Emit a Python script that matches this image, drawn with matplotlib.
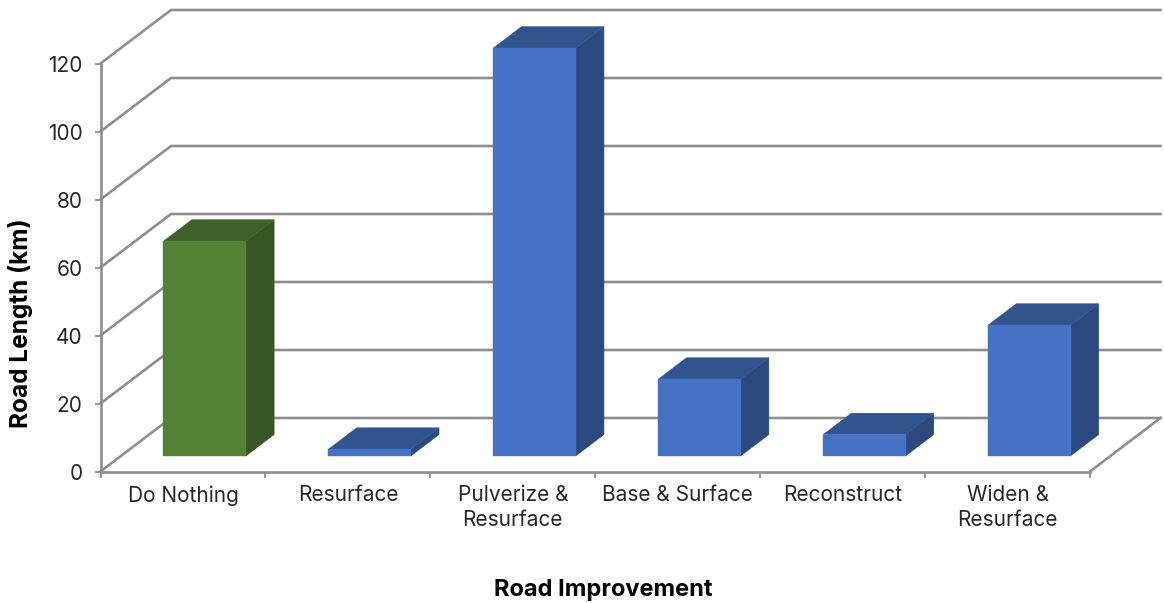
import matplotlib
matplotlib.use("Agg")
import matplotlib.pyplot as plt
from matplotlib.patches import Polygon

categories = ["Do Nothing", "Resurface", "Pulverize &\nResurface", "Base & Surface", "Reconstruct", "Widen &\nResurface"]
values = [63.2, 2.0, 120.0, 22.6, 6.3, 38.5]
y_ticks = [0, 20, 40, 60, 80, 100, 120]
face_colors = ["#548235", "#4472C4", "#4472C4", "#4472C4", "#4472C4", "#4472C4"]
side_colors = ["#375623", "#2A4A80", "#2A4A80", "#2A4A80", "#2A4A80", "#2A4A80"]
top_colors = ["#3F6128", "#31548F", "#31548F", "#31548F", "#31548F", "#31548F"]

W, H = 1164, 603
FONT = "Inter"
GRID = "#8E8E8E"
TXT = "#262626"
plt.rcParams["font.family"] = [FONT, "DejaVu Sans"]

fig = plt.figure(figsize=(W / 100, H / 100), dpi=100, facecolor="white")
L, R, T, B = 100.5, 1090.0, 63.5, 471.5
ax = fig.add_axes([L / W, 1 - B / H, (R - L) / W, (B - T) / H])
ax.set_xlim(0, len(categories))
ax.set_ylim(0, 120)
ax.patch.set_alpha(0)

# oblique projection: depth 0 = front, depth 1 = back wall
DX = 70.5 / ((R - L) / len(categories))
DY = 53.5 / ((B - T) / 120)


def proj(x, y, d):
    return (x + DX * d, y + DY * d)


for v in y_ticks:
    pts = [proj(0, v, 0), proj(0, v, 1), proj(len(categories), v, 1)]
    ax.plot(*zip(*pts), color=GRID, lw=1.9, clip_on=False, zorder=1, solid_joinstyle="miter")
pts = [proj(len(categories), 0, 1), proj(len(categories), 0, 0)]
ax.plot(*zip(*pts), color=GRID, lw=1.9, clip_on=False, zorder=1)

D0, D1 = 0.29, 0.69
BW = 0.5
X0 = 0.258
for i, v in enumerate(values):
    x0, x1 = i + X0, i + X0 + BW
    front = [proj(x0, 0, D0), proj(x1, 0, D0), proj(x1, v, D0), proj(x0, v, D0)]
    side = [proj(x1, 0, D0), proj(x1, 0, D1), proj(x1, v, D1), proj(x1, v, D0)]
    top = [proj(x0, v, D0), proj(x1, v, D0), proj(x1, v, D1), proj(x0, v, D1)]
    for poly, c in ((side, side_colors[i]), (top, top_colors[i]), (front, face_colors[i])):
        ax.add_patch(Polygon(poly, closed=True, facecolor=c, edgecolor=c, lw=0.3, clip_on=False, zorder=3))

for s in ("top", "right"):
    ax.spines[s].set_visible(False)
for s in ("left", "bottom"):
    ax.spines[s].set_color(GRID)
    ax.spines[s].set_linewidth(1.9)
    ax.spines[s].set_zorder(2)

ax.set_yticks(y_ticks)
ax.set_xticks(range(len(categories) + 1))
ax.set_xticklabels([])
ax.set_xticks([i + 0.5 for i in range(len(categories))], labels=categories, minor=True)
ax.tick_params(axis="x", which="major", length=4, width=1.3, color=GRID)
ax.tick_params(axis="x", which="minor", length=0, pad=10, labelsize=15, labelcolor=TXT)
ax.tick_params(axis="y", which="major", length=4, width=1.3, color=GRID, pad=9, labelsize=15, labelcolor=TXT)
for t in ax.get_xticklabels(minor=True):
    t.set_linespacing(1.27)

fig.text(603.5 / W, 1 - 590 / H, "Road Improvement", ha="center", va="center", fontsize=17, fontweight="bold", color="#000000")
fig.text(21 / W, 1 - 323 / H, "Road Length (km)", ha="center", va="center", rotation=90, fontsize=17.6, fontweight="bold", color="#000000")

fig.savefig("out.png", dpi=100, facecolor="white")
